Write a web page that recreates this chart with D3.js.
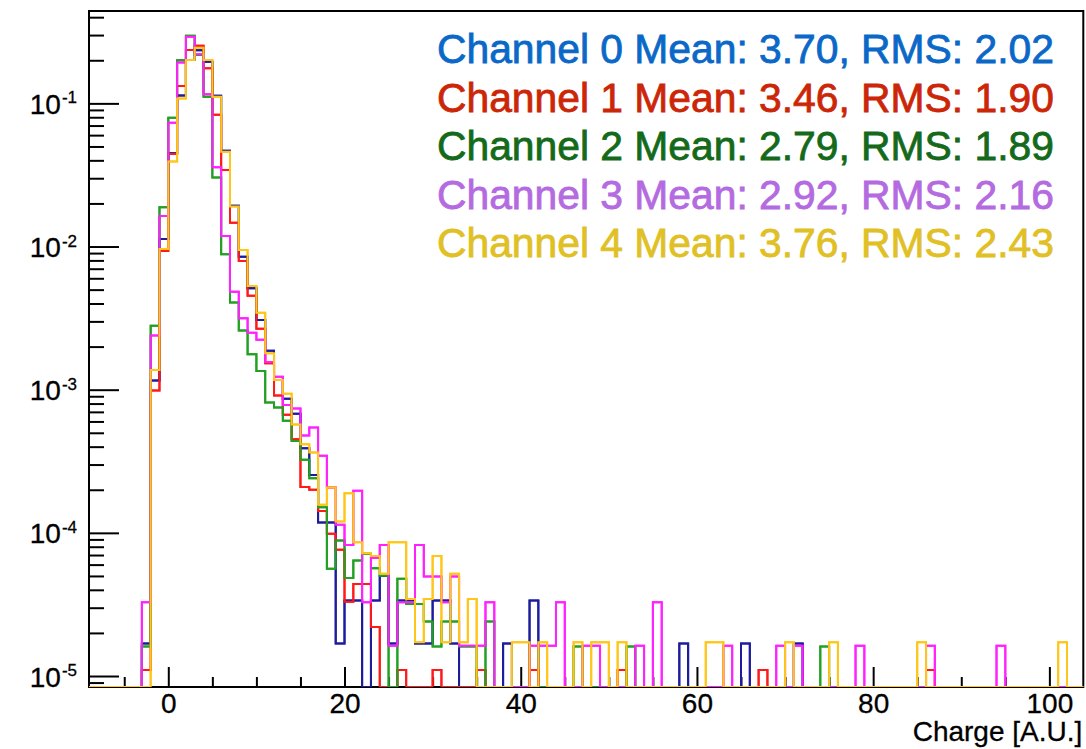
<!DOCTYPE html>
<html>
<head>
<meta charset="utf-8">
<script src="https://cdn.jsdelivr.net/npm/d3@7"></script>
<style>
  html, body { margin: 0; padding: 0; background: #ffffff; }
  svg { display: block; font-family: "Liberation Sans", Arial, Helvetica, sans-serif; }
</style>
</head>
<body>
<svg id="chart" width="1086" height="749"></svg>
<script>
// ---- data -------------------------------------------------------------
// Charge histograms, unit-width bins; each entry is [bin low edge, normalised content].
const xRange = [-9, 103.85];
const yRange = [8.38e-6, 0.4418];
const firstBin = -9;
const lastBin = 103;

const xMajorTicks = [0, 20, 40, 60, 80, 100];
const xMinorTicks = [-5, 5, 10, 15, 25, 30, 35, 45, 50, 55, 65, 70, 75, 85, 90, 95];
const yDecades = [-1, -2, -3, -4, -5];

const channelNames = ["Channel 0", "Channel 1", "Channel 2", "Channel 3", "Channel 4"];
const channelMeans = ["3.70", "3.46", "2.79", "2.92", "3.76"];
const channelRms = ["2.02", "1.90", "1.89", "2.16", "2.43"];
const xTitle = "Charge [A.U.]";

const ch0 = [
  [-3, 1.69e-5], [-2, 1.16e-3], [-1, 1.13e-2], [0, 4.48e-2], [1, 0.1135], [2, 0.201],
  [3, 0.235], [4, 0.1955], [5, 0.1132], [6, 0.0467], [7, 0.0193], [8, 0.0085],
  [9, 0.00511], [10, 0.00307], [11, 0.00187], [12, 0.00117], [13, 0.000865], [14, 0.00068],
  [15, 0.00039], [16, 0.000254], [17, 0.000118], [18, 0.000118], [19, 1.69e-5], [20, 3.37e-5],
  [21, 3.37e-5], [23, 3.37e-5], [24, 5.0e-5], [25, 1.69e-5], [26, 3.37e-5], [27, 3.37e-5],
  [28, 1.69e-5], [29, 1.69e-5], [30, 3.37e-5], [31, 3.37e-5], [32, 1.69e-5], [38, 1.69e-5],
  [41, 3.37e-5], [58, 1.69e-5], [65, 1.69e-5], [71, 1.69e-5]
];
const ch1 = [
  [-3, 1.10e-5], [-2, 9.86e-4], [-1, 9.32e-3], [0, 4.43e-2], [1, 0.1323], [2, 0.236],
  [3, 0.253], [4, 0.176], [5, 0.0834], [6, 0.0343], [7, 0.01468], [8, 0.00793],
  [9, 0.00454], [10, 0.00266], [11, 0.00153], [12, 0.000912], [13, 0.000667], [14, 0.000451],
  [15, 0.000209], [16, 0.0002], [17, 0.000142], [18, 9.84e-5], [19, 7.61e-5], [20, 3.3e-5],
  [21, 4.4e-5], [22, 4.4e-5], [23, 2.2e-5], [26, 1.10e-5], [30, 1.10e-5], [35, 1.10e-5],
  [41, 1.10e-5], [51, 1.10e-5], [67, 1.10e-5], [86, 1.10e-5]
];
const ch2 = [
  [-3, 1.61e-5], [-2, 2.80e-3], [-1, 1.88e-2], [0, 7.95e-2], [1, 0.200], [2, 0.297],
  [3, 0.218], [4, 0.1114], [5, 0.0303], [6, 0.00884], [7, 0.00406], [8, 0.00259],
  [9, 0.00177], [10, 0.00135], [11, 0.000813], [12, 0.000752], [13, 0.000607], [14, 0.000439],
  [15, 0.000324], [16, 0.000241], [17, 0.000151], [18, 5.61e-5], [19, 8.83e-5], [20, 4.83e-5],
  [21, 6.41e-5], [22, 7.14e-5], [23, 5.67e-5], [24, 5.01e-5], [26, 4.77e-5], [27, 3.19e-5],
  [28, 3.19e-5], [29, 2.40e-5], [30, 1.61e-5], [31, 2.40e-5], [32, 2.40e-5], [33, 1.61e-5],
  [34, 1.61e-5], [36, 2.40e-5], [46, 1.61e-5], [52, 1.61e-5], [74, 1.61e-5]
];
const ch3 = [
  [-3, 3.27e-5], [-2, 2.39e-3], [-1, 1.636e-2], [0, 7.33e-2], [1, 0.193], [2, 0.292],
  [3, 0.22], [4, 0.1157], [5, 0.0358], [6, 0.01186], [7, 0.00484], [8, 0.00316],
  [9, 0.0025], [10, 0.00223], [11, 0.00156], [12, 0.00123], [13, 0.000783], [14, 0.000738],
  [15, 0.000478], [16, 0.000544], [17, 0.000345], [18, 0.000207], [19, 0.000114], [20, 8.24e-5],
  [21, 0.000197], [22, 3.27e-5], [23, 6.66e-5], [24, 8.24e-5], [25, 1.63e-5], [26, 3.27e-5],
  [27, 3.27e-5], [28, 8.24e-5], [29, 4.95e-5], [30, 4.95e-5], [31, 3.27e-5], [32, 4.95e-5],
  [33, 1.63e-5], [34, 1.63e-5], [35, 1.63e-5], [36, 3.27e-5], [41, 1.63e-5], [42, 1.63e-5],
  [43, 1.63e-5], [44, 3.27e-5], [47, 1.63e-5], [48, 1.63e-5], [53, 1.63e-5], [55, 3.27e-5],
  [63, 1.63e-5], [69, 1.63e-5], [71, 1.63e-5], [78, 1.63e-5], [86, 1.63e-5], [94, 1.63e-5]
];
const ch4 = [
  [-2, 1.37e-3], [-1, 9.62e-3], [0, 3.92e-2], [1, 0.108], [2, 0.201], [3, 0.245],
  [4, 0.201], [5, 0.1114], [6, 0.046], [7, 0.019], [8, 0.00947], [9, 0.00531],
  [10, 0.00345], [11, 0.0018], [12, 0.00117], [13, 0.000935], [14, 0.000571], [15, 0.000416],
  [16, 0.000364], [17, 0.000157], [18, 0.000207], [19, 0.00012], [20, 0.000189], [21, 8.58e-5],
  [22, 7.2e-5], [23, 6.9e-5], [24, 5.17e-5], [25, 8.6e-5], [26, 8.6e-5], [27, 3.45e-5],
  [28, 1.72e-5], [29, 3.45e-5], [30, 6.9e-5], [31, 1.72e-5], [32, 5.17e-5], [33, 1.72e-5],
  [34, 3.45e-5], [39, 1.72e-5], [40, 1.72e-5], [42, 1.72e-5], [46, 1.72e-5], [48, 1.72e-5],
  [49, 1.72e-5], [51, 1.72e-5], [61, 1.72e-5], [62, 1.72e-5], [70, 1.72e-5], [75, 1.72e-5],
  [85, 1.72e-5], [101, 1.72e-5]
];

// ---- styles -----------------------------------------------------------
const lineColors = ["#1c1c9c", "#ff1a1a", "#22a022", "#ff22ff", "#ffc61a"];
const textColors = ["#0a68c8", "#cc2608", "#146a1a", "#b46ae0", "#e0c024"];

// ---- layout -----------------------------------------------------------
const frame = { left: 89, right: 1083.3, top: 11, bottom: 687 };
const svg = d3.select("#chart");

const x = d3.scaleLinear().domain(xRange).range([frame.left, frame.right]);
const y = d3.scaleLog().domain(yRange).range([frame.bottom, frame.top]);

svg.append("defs").append("clipPath").attr("id", "frameClip")
  .append("rect")
  .attr("x", frame.left).attr("y", frame.top)
  .attr("width", frame.right - frame.left).attr("height", frame.bottom - frame.top);

// ---- axes -------------------------------------------------------------
const axisFont = 28;

const xMinorAxis = d3.axisBottom(x).tickValues(xMinorTicks).tickSize(-10).tickFormat("");
const xMajorAxis = d3.axisBottom(x).tickValues(xMajorTicks).tickSize(-20).tickPadding(6)
  .tickFormat(d3.format("d"));

const gxMinor = svg.append("g").attr("transform", `translate(0,${frame.bottom})`).call(xMinorAxis);
const gxMajor = svg.append("g").attr("transform", `translate(0,${frame.bottom})`).call(xMajorAxis);

const yMinorValues = [];
for (let d = -6; d <= 0; d++) {
  for (let m = 2; m <= 9; m++) {
    const v = m * Math.pow(10, d);
    if (v >= yRange[0] && v <= yRange[1]) yMinorValues.push(v);
  }
}
const yMajorValues = yDecades.map(d => Math.pow(10, d));

const yMinorAxis = d3.axisLeft(y).tickValues(yMinorValues).tickSize(-15).tickFormat("");
const yMajorAxis = d3.axisLeft(y).tickValues(yMajorValues).tickSize(-30).tickPadding(12)
  .tickFormat(() => "");

const gyMinor = svg.append("g").attr("transform", `translate(${frame.left},0)`).call(yMinorAxis);
const gyMajor = svg.append("g").attr("transform", `translate(${frame.left},0)`).call(yMajorAxis);

[gxMinor, gxMajor, gyMinor, gyMajor].forEach(g => {
  g.select(".domain").remove();
  g.selectAll(".tick line").attr("stroke", "#000").attr("stroke-width", 2);
});

gxMajor.selectAll(".tick text")
  .attr("fill", "#000")
  .attr("stroke", "#000")
  .attr("stroke-width", 0.3)
  .attr("font-size", axisFont)
  .attr("font-family", "Liberation Sans, Arial, sans-serif");

// decade labels written as 10 with a raised exponent
gyMajor.selectAll(".tick text").each(function (d) {
  const t = d3.select(this);
  t.text(null)
    .attr("fill", "#000")
    .attr("stroke", "#000")
    .attr("stroke-width", 0.3)
    .attr("font-size", axisFont)
    .attr("font-family", "Liberation Sans, Arial, sans-serif")
    .attr("dy", "0.36em");
  t.append("tspan").text("10");
  t.append("tspan")
    .attr("font-size", 17)
    .attr("dy", "-0.62em")
    .attr("dx", 1)
    .text("-" + Math.abs(Math.round(Math.log10(d))));
});

// ---- histograms -------------------------------------------------------
function histPath(entries) {
  const content = new Map(entries);
  const floorY = frame.bottom;
  let p = "";
  for (let b = firstBin; b <= lastBin; b++) {
    const v = content.get(b) || 0;
    const yy = v > yRange[0] ? y(v) : floorY;
    if (b === firstBin) p += `M${x(b)},${yy}`;
    else p += `V${yy}`;
    p += `H${x(b + 1)}`;
  }
  return p;
}

const histGroup = svg.append("g").attr("clip-path", "url(#frameClip)");
[ch0, ch1, ch2, ch3, ch4].forEach((entries, i) => {
  histGroup.append("path")
    .attr("d", histPath(entries))
    .attr("fill", "none")
    .attr("stroke", lineColors[i])
    .attr("stroke-width", 2)
    .attr("stroke-linejoin", "miter");
});

// ---- frame ------------------------------------------------------------
svg.append("rect")
  .attr("x", frame.left).attr("y", frame.top)
  .attr("width", frame.right - frame.left).attr("height", frame.bottom - frame.top)
  .attr("fill", "none").attr("stroke", "#000").attr("stroke-width", 2);

// redraw histograms over the bottom edge where they sit at the floor
const floorGroup = svg.append("g");
[ch0, ch1, ch2, ch3, ch4].forEach((entries, i) => {
  floorGroup.append("path")
    .attr("d", histPath(entries))
    .attr("fill", "none")
    .attr("stroke", lineColors[i])
    .attr("stroke-width", 2)
    .attr("clip-path", "url(#frameClip)");
});

// ---- axis title -------------------------------------------------------
svg.append("text")
  .attr("x", frame.right - 1)
  .attr("y", 741)
  .attr("text-anchor", "end")
  .attr("font-size", axisFont)
  .attr("fill", "#000")
  .attr("stroke", "#000")
  .attr("stroke-width", 0.3)
  .text(xTitle);

// ---- statistics legend ------------------------------------------------
const legend = svg.append("g");
channelNames.forEach((name, i) => {
  legend.append("text")
    .attr("x", 437)
    .attr("y", 63 + i * 48.5)
    .attr("font-size", 40.8)
    .attr("fill", textColors[i])
    .attr("stroke", textColors[i])
    .attr("stroke-width", 0.8)
    .text(`${name} Mean: ${channelMeans[i]}, RMS: ${channelRms[i]}`);
});
</script>
</body>
</html>
